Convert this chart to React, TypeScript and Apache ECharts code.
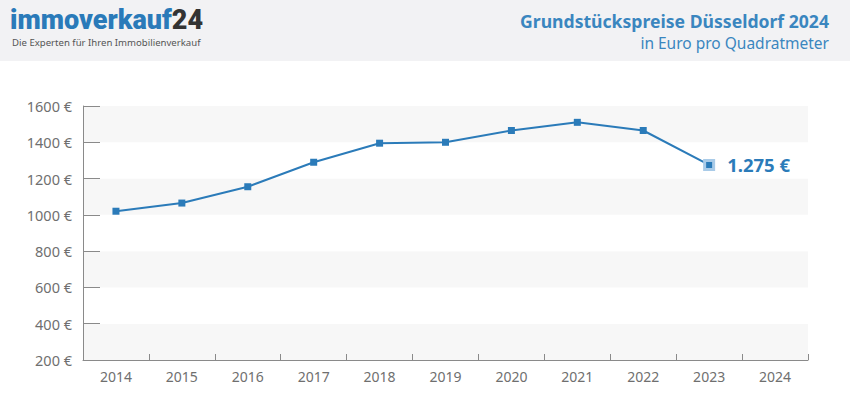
import React, { useEffect, useRef } from "react";
import * as echarts from "echarts";

const years = ["2014", "2015", "2016", "2017", "2018", "2019", "2020", "2021", "2022", "2023", "2024"];
const prices: (number | null)[] = [1020, 1065, 1155, 1290, 1395, 1400, 1465, 1510, 1465, 1275, null];
const yTicks = { min: 200, max: 1600, interval: 200 };
const titleText = "Grundstückspreise Düsseldorf 2024";
const subtitleText = "in Euro pro Quadratmeter";
const logoMain = "immoverkauf";
const logoNum = "24";
const logoTag = "Die Experten für Ihren Immobilienverkauf";

const FONT = "'Noto Sans', 'Open Sans', sans-serif";
const LOGO_FONT = "Roboto, 'Noto Sans', sans-serif";
const BLUE = "#2b7bb9";

function fmtEuro(v: number): string {
  const s = Math.round(v).toString();
  return s.replace(/\B(?=(\d{3})+(?!\d))/g, ".") + " €";
}

export default function App() {
  const ref = useRef<HTMLDivElement>(null);
  useEffect(() => {
    if (!ref.current) return;
    const chart = echarts.init(ref.current, null, { renderer: "svg" });
    let lastIdx = -1;
    prices.forEach((p, i) => { if (p != null) lastIdx = i; });
    const seriesData = prices.map((p, i) => {
      if (i === lastIdx && p != null) {
        return {
          value: p,
          symbolSize: 9,
          itemStyle: { color: BLUE, borderColor: "#a9cbe8", borderWidth: 3 },
          label: {
            show: true,
            position: "right",
            distance: 12,
            formatter: () => fmtEuro(p),
            color: BLUE,
            fontSize: 18.5,
            fontWeight: "bold",
            fontFamily: FONT,
          },
        };
      }
      return p;
    });
    chart.setOption({
      animation: false,
      backgroundColor: "#ffffff",
      graphic: [
        { type: "rect", left: 0, top: 0, shape: { width: 850, height: 61 }, style: { fill: "#f2f2f4" }, z: -10 },
        {
          type: "text", left: 10, top: 6,
          style: {
            text: `{logoA|${logoMain}}{logoB|${logoNum}}`,
            fontFamily: LOGO_FONT,
            fontWeight: 900,
            fontSize: 27,
            rich: {
              logoA: { fontSize: 27, fontWeight: 900, fill: "#2a7ab9", fontFamily: LOGO_FONT },
              logoB: { fontSize: 27, fontWeight: 900, fill: "#333333", fontFamily: LOGO_FONT },
            },
          },
        },
        { type: "text", left: 12, top: 37, style: { text: logoTag, fontSize: 9.6, fill: "#555555", fontFamily: FONT } },
        { type: "text", right: 21, top: 12, style: { text: titleText, fontSize: 17.6, fontWeight: "bold", fill: "#3a86bf", fontFamily: FONT } },
        { type: "text", right: 21, top: 35, style: { text: subtitleText, fontSize: 15.5, fill: "#3a86bf", fontFamily: FONT } },
      ],
      grid: { left: 83, right: 42, top: 106, bottom: 57 },
      xAxis: {
        type: "category",
        data: years,
        boundaryGap: true,
        axisLine: { lineStyle: { color: "#8a8a8a", width: 1 } },
        axisTick: { show: true, inside: true, length: 6, lineStyle: { color: "#8a8a8a" } },
        axisLabel: { color: "#6f6f6f", fontSize: 14, fontFamily: FONT, margin: 9 },
        splitLine: { show: false },
      },
      yAxis: {
        type: "value",
        min: yTicks.min,
        max: yTicks.max,
        interval: yTicks.interval,
        axisLine: { show: true, lineStyle: { color: "#8a8a8a", width: 1 } },
        axisTick: { show: true, inside: true, length: 17, lineStyle: { color: "#8a8a8a" } },
        axisLabel: { color: "#6f6f6f", fontSize: 14.5, fontFamily: FONT, margin: 11, formatter: (v: number) => `${v} €` },
        splitLine: { show: false },
        splitArea: { show: true, areaStyle: { color: ["#f7f7f7", "#ffffff"] } },
      },
      series: [
        {
          type: "line",
          data: seriesData,
          symbol: "rect",
          symbolSize: 7,
          lineStyle: { color: BLUE, width: 2 },
          itemStyle: { color: BLUE },
          connectNulls: false,
        },
      ],
    });
    return () => chart.dispose();
  }, []);
  return <div ref={ref} style={{ position: "absolute", left: 0, top: 0, width: 850, height: 417 }} />;
}
